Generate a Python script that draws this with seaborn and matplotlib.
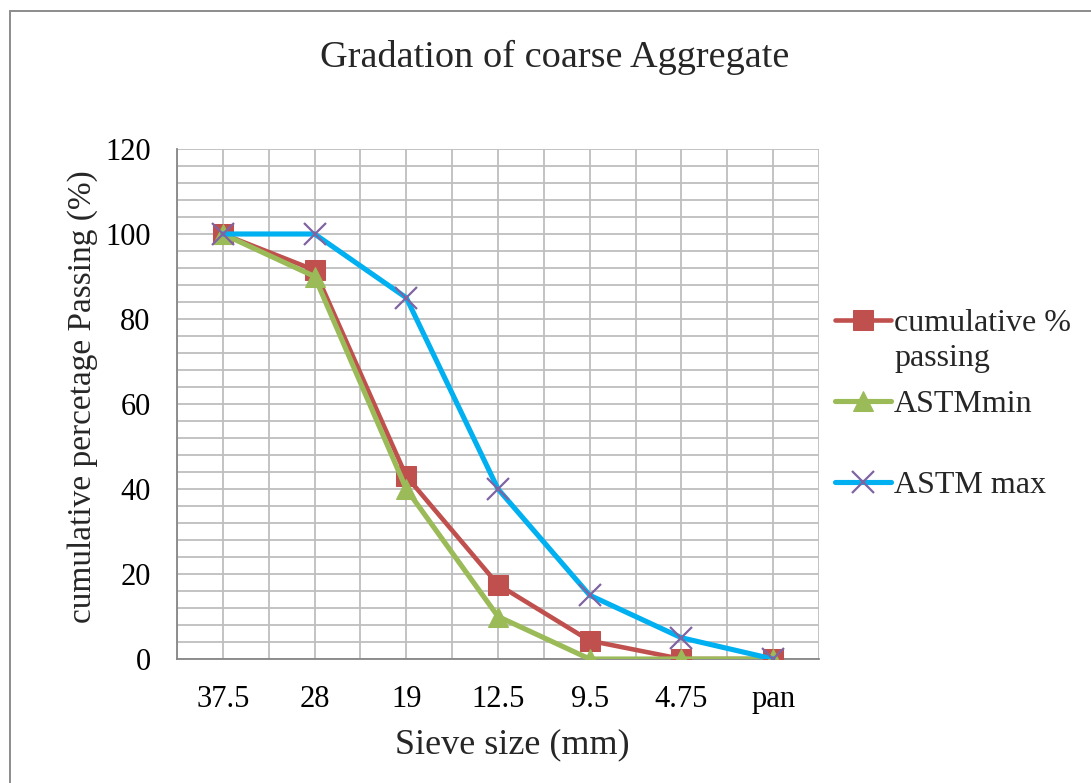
import matplotlib
matplotlib.use("Agg")
import matplotlib.pyplot as plt
from matplotlib.lines import Line2D
import seaborn as sns
import pandas as pd
import numpy as np

# Sieve sizes and percent passing for each curve
sieve_sizes = ["37.5", "28", "19", "12.5", "9.5", "4.75", "pan"]
cumulative_passing = [100, 91.5, 43, 17.5, 4.3, 0, 0]
astm_min = [100, 90, 40, 10, 0, 0, 0]
astm_max = [100, 100, 85, 40, 15, 5, 0]

# every legend entry takes two lines of text
series_names = ["cumulative %\npassing", "ASTMmin\n", "ASTM max\n"]

sns.set_theme(style="white")
plt.rcParams["font.family"] = ["Liberation Serif", "DejaVu Serif"]

W, H = 1091, 783
fig = plt.figure(figsize=(W / 100, H / 100), dpi=100)
ax = fig.add_axes([177 / W, 1 - 659 / H, (819 - 177) / W, (659 - 149) / H])

pos = np.arange(len(sieve_sizes))
df = pd.DataFrame({"pos": pos, "cum": cumulative_passing, "min": astm_min, "max": astm_max})

red, green, blue, purple = "#C0504D", "#9BBB59", "#00B0F0", "#8064A2"

sns.lineplot(data=df, x="pos", y="cum", ax=ax, color=red, lw=3.3, marker="s",
             markersize=14, markeredgecolor=red, label=series_names[0], zorder=3)
sns.lineplot(data=df, x="pos", y="min", ax=ax, color=green, lw=3.7, marker="^",
             markersize=15, markeredgecolor=green, label=series_names[1], zorder=4)
sns.lineplot(data=df, x="pos", y="max", ax=ax, color=blue, lw=3.7, marker="x",
             markersize=16, markeredgecolor=purple, markeredgewidth=1.6,
             label=series_names[2], zorder=5)

ax.set_xlim(-0.5, len(sieve_sizes) - 0.5)
ax.set_ylim(0, 120)
ax.set_xticks(pos)
ax.set_xticklabels(sieve_sizes)
ax.set_yticks(np.arange(0, 121, 20))
ax.set_xticks(np.arange(-0.5, len(sieve_sizes), 0.5), minor=True)
ax.set_yticks(np.arange(0, 121, 4), minor=True)
ax.grid(which="both", color="#BEBEBE", lw=1.3)
ax.set_axisbelow(True)
ax.tick_params(which="both", length=0, labelsize=22, pad=19, colors="black")
for s in ["top", "right"]:
    ax.spines[s].set_visible(False)
for s in ["left", "bottom"]:
    ax.spines[s].set_color("#868686")
    ax.spines[s].set_linewidth(1.3)

ax.set_xlabel("Sieve size (mm)", fontsize=26, labelpad=10)
ax.set_ylabel("cumulative percetage Passing (%)", fontsize=24, labelpad=5)
ax.xaxis.label.set_x(0.522)
ax.yaxis.label.set_y(0.514)

fig.text(555 / W, 1 - 57 / H, "Gradation of coarse Aggregate", fontsize=27.5,
         ha="center", va="center")

leg = ax.legend(loc="upper left", bbox_to_anchor=(0.99, 0.73), frameon=False,
                fontsize=23, handlelength=1.75, handletextpad=0.1,
                labelspacing=0.53, borderaxespad=0.3)
for t in leg.get_texts():
    t.set_linespacing(1.27)
# put each key beside the first line of its label
for column in leg._legend_handle_box.get_children():
    for row in column.get_children():
        row.align = "top"

# chart frame: top and left edges
fig.add_artist(Line2D([10 / W, 1], [1 - 10.5 / H, 1 - 10.5 / H],
                      transform=fig.transFigure, color="#8C8C8C", lw=1.4))
fig.add_artist(Line2D([10 / W, 10 / W], [0, 1 - 10.5 / H],
                      transform=fig.transFigure, color="#8C8C8C", lw=1.4))

fig.savefig("out.png", dpi=100)
